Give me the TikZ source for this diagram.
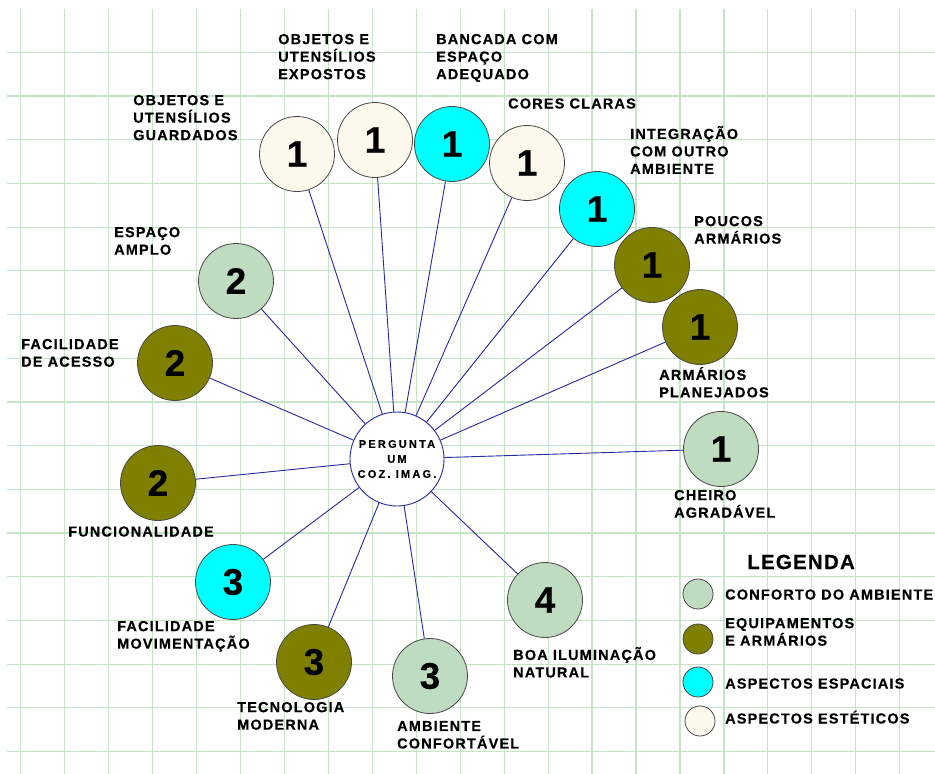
\documentclass[tikz,border=0pt]{standalone}
\usepackage{fontspec}
\setmainfont{Liberation Sans}
\newfontfamily\lbfont[LetterSpace=8,FakeBold=0.4]{Liberation Sans Bold}
\newfontfamily\ctfont[LetterSpace=20,FakeBold=0.4]{Liberation Sans Bold}
\newfontfamily\lgfont[LetterSpace=6,FakeBold=0.4]{Liberation Sans Bold}
\newfontfamily\nmfont[FakeBold=0.4]{Liberation Sans Bold}
\definecolor{gridc}{RGB}{200,228,200}
\definecolor{beigec}{RGB}{253,248,236}
\definecolor{cyanc}{RGB}{0,255,255}
\definecolor{olivec}{RGB}{128,128,0}
\definecolor{greenc}{RGB}{192,220,192}
\definecolor{linec}{RGB}{40,40,160}
\definecolor{rimc}{RGB}{70,70,70}
\tikzset{
  bub/.style={circle, draw=rimc, line width=0.8pt, minimum size=75pt, inner sep=0pt,
    font=\nmfont\fontsize{37}{37}\selectfont},
  lbl/.style={anchor=north west, inner sep=0pt, align=left,
    font=\lbfont\fontsize{14.5}{17.5}\selectfont,
    execute at begin node={\rule{0pt}{13.5pt}}},
  conn/.style={draw=linec, line width=0.9pt},
  legb/.style={circle, draw=rimc, line width=0.8pt, minimum size=30pt, inner sep=0pt},
  gridl/.style={draw=gridc, line width=1.2pt},
}
\begin{document}
\begin{tikzpicture}[x=1pt,y=-1pt]
\useasboundingbox[fill=white] (0,0) rectangle (935,774);
% grid
\foreach \i in {0,...,20} \draw[gridl] ({20.7+43.95*\i},9) -- ({20.7+43.95*\i},774);
\foreach \j in {0,...,16} \draw[gridl] (7,{52.3+43.7*\j}) -- (935,{52.3+43.7*\j});

% centre
\node[circle, draw=linec, line width=0.9pt, fill=white, minimum size=94pt, inner sep=0pt, align=center,
  font=\ctfont\fontsize{11}{15}\selectfont] (c) at (397,459) {PERGUNTA\\UM\\COZ. IMAG.};

% bubbles
\node[bub, fill=beigec] (n1) at (297,154) {1};
\node[bub, fill=beigec] (n2) at (375,140) {1};
\node[bub, fill=cyanc] (n3) at (452,144) {1};
\node[bub, fill=beigec] (n4) at (527,163) {1};
\node[bub, fill=cyanc] (n5) at (597,209) {1};
\node[bub, fill=olivec] (n6) at (652,265) {1};
\node[bub, fill=olivec] (n7) at (700,327) {1};
\node[bub, fill=greenc] (n8) at (721,449) {1};
\node[bub, fill=greenc] (n9) at (545,600) {4};
\node[bub, fill=greenc] (n10) at (430,676) {3};
\node[bub, fill=olivec] (n11) at (314,662) {3};
\node[bub, fill=cyanc] (n12) at (233,582) {3};
\node[bub, fill=olivec] (n13) at (158,483) {2};
\node[bub, fill=olivec] (n14) at (175,363) {2};
\node[bub, fill=greenc] (n15) at (236,281) {2};

% connectors
\foreach \n in {n1,n2,n3,n4,n5,n6,n7,n8,n9,n10,n11,n12,n13,n14,n15}
  \draw[conn] (c) -- (\n);

% labels
\node[lbl] (l1) at (133,94.8) {OBJETOS E\\UTENSÍLIOS\\GUARDADOS};
\node[lbl] (l2) at (278,33.8) {OBJETOS E\\UTENSÍLIOS\\EXPOSTOS};
\node[lbl] (l3) at (436,33.8) {BANCADA COM\\ESPAÇO\\ADEQUADO};
\node[lbl] (l4) at (508,94.8) {CORES CLARAS};
\node[lbl] (l5) at (630,125.8) {INTEGRAÇÃO\\COM OUTRO\\AMBIENTE};
\node[lbl] (l6) at (694,215.8) {POUCOS\\ARMÁRIOS};
\node[lbl] (l7) at (659,366.8) {ARMÁRIOS\\PLANEJADOS};
\node[lbl] (l8) at (674,489.8) {CHEIRO\\AGRADÁVEL};
\node[lbl] (l9) at (513,646.8) {BOA ILUMINAÇÃO\\NATURAL};
\node[lbl] (l10) at (397,720.8) {AMBIENTE\\CONFORTÁVEL};
\node[lbl] (l11) at (237,701.8) {TECNOLOGIA\\MODERNA};
\node[lbl] (l12) at (117,620.8) {FACILIDADE\\MOVIMENTAÇÃO};
\node[lbl] (l13) at (68,522.8) {FUNCIONALIDADE};
\node[lbl] (l14) at (21,338.8) {FACILIDADE\\DE ACESSO};
\node[lbl] (l15) at (114,226.8) {ESPAÇO\\AMPLO};

% legend
\node[font=\lgfont\fontsize{20.5}{20.5}\selectfont, inner sep=0pt] (lg) at (801,562) {LEGENDA};
\node[legb, fill=greenc] (g1) at (698,594) {};
\node[legb, fill=olivec] (g2) at (698,639) {};
\node[legb, fill=cyanc] (g3) at (698,682) {};
\node[legb, fill=beigec] (g4) at (700,721) {};
\node[lbl] (t1) at (725,585.8) {CONFORTO DO AMBIENTE};
\node[lbl] (t2) at (725,617.8) {EQUIPAMENTOS\\E ARMÁRIOS};
\node[lbl] (t3) at (725,674.8) {ASPECTOS ESPACIAIS};
\node[lbl] (t4) at (725,709.8) {ASPECTOS ESTÉTICOS};
\end{tikzpicture}
\end{document}
